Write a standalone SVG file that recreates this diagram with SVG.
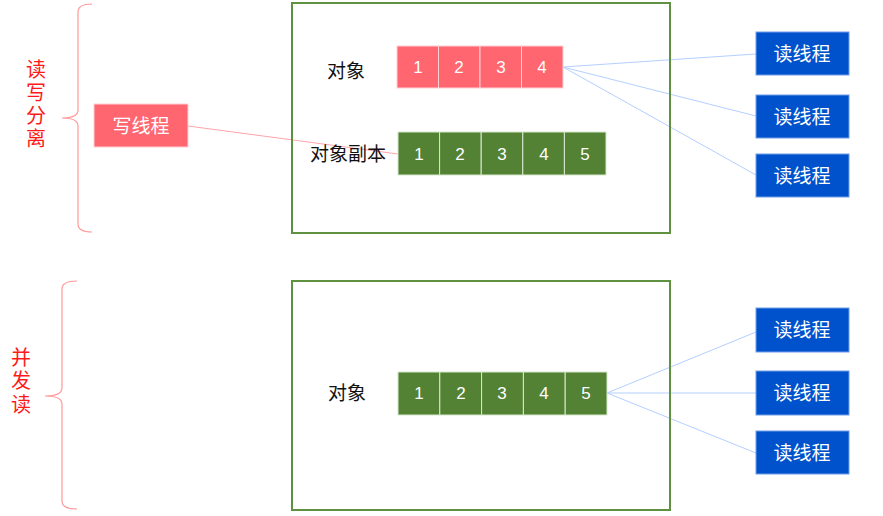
<svg xmlns="http://www.w3.org/2000/svg" width="883" height="516" viewBox="0 0 883 516">
<style>
text{font-family:"Liberation Sans","Noto Sans CJK SC",sans-serif;dominant-baseline:central;text-anchor:middle}
.frame{fill:none;stroke:#5e9140;stroke-width:2}
.brace{fill:none;stroke:#ff9a9a;stroke-width:1.2}
.side{fill:#ff1a1a;font-size:20px}
.pink{fill:#ff6670;stroke:#ffd0d4;stroke-width:1}
.green{fill:#548235;stroke:#d8e8cc;stroke-width:1}
.blue{fill:#0052cc;stroke:#6f9ee8;stroke-width:1}
.num{fill:#fff;font-size:17px}
.lbl{fill:#111;font-size:19px}
.btxt{fill:#fff;font-size:19px}
.conn{stroke:#b4d0ff;stroke-width:1;fill:none}
.wconn{stroke:#ffa4ab;stroke-width:1;fill:none}
</style>
<g id="connectors">
<line class="wconn" x1="188" y1="126" x2="398" y2="154"/>
<line class="conn" x1="563" y1="67" x2="756" y2="54"/>
<line class="conn" x1="563" y1="67" x2="756" y2="116"/>
<line class="conn" x1="563" y1="67" x2="756" y2="175"/>
<line class="conn" x1="607" y1="393" x2="756" y2="332"/>
<line class="conn" x1="607" y1="393" x2="756" y2="393"/>
<line class="conn" x1="607" y1="393" x2="756" y2="453"/>
</g>
<g id="frame-top"><rect class="frame" x="292" y="3" width="378" height="230"/></g>
<g id="frame-bottom"><rect class="frame" x="292" y="281" width="378" height="229"/></g>
<g id="brace-top">
<path class="brace" d="M92,4 Q78,4 78,12 L78,110 Q78,118 62,118 Q78,118 78,126 L78,224 Q78,232 92,232"/>
<text class="side" x="36" y="70">读</text>
<text class="side" x="36" y="93">写</text>
<text class="side" x="36" y="116">分</text>
<text class="side" x="36" y="139">离</text>
</g>
<g id="brace-bottom">
<path class="brace" d="M77,281 Q62,281 62,289 L62,388 Q62,396 45,396 Q62,396 62,404 L62,501 Q62,509 77,509"/>
<text class="side" x="21" y="358">并</text>
<text class="side" x="21" y="381">发</text>
<text class="side" x="21" y="405">读</text>
</g>
<g id="writer">
<rect class="pink" x="94" y="104" width="94" height="43"/>
<text class="btxt" x="141" y="126">写线程</text>
</g>
<g id="object-top">
<text class="lbl" x="346" y="71">对象</text>
<rect class="pink" x="397" y="46" width="41.5" height="42"/><text class="num" x="418" y="67">1</text>
<rect class="pink" x="438.5" y="46" width="41.5" height="42"/><text class="num" x="459" y="67">2</text>
<rect class="pink" x="480" y="46" width="41.5" height="42"/><text class="num" x="501" y="67">3</text>
<rect class="pink" x="521.5" y="46" width="41.5" height="42"/><text class="num" x="542" y="67">4</text>
</g>
<g id="object-copy">
<text class="lbl" x="348" y="154">对象副本</text>
<rect class="green" x="398" y="132" width="41.6" height="43"/><text class="num" x="419" y="154">1</text>
<rect class="green" x="439.6" y="132" width="41.6" height="43"/><text class="num" x="460" y="154">2</text>
<rect class="green" x="481.2" y="132" width="41.6" height="43"/><text class="num" x="502" y="154">3</text>
<rect class="green" x="522.8" y="132" width="41.6" height="43"/><text class="num" x="544" y="154">4</text>
<rect class="green" x="564.4" y="132" width="41.6" height="43"/><text class="num" x="585" y="154">5</text>
</g>
<g id="reader-top-1"><rect class="blue" x="756" y="32" width="93" height="43"/><text class="btxt" x="802" y="54">读线程</text></g>
<g id="reader-top-2"><rect class="blue" x="756" y="95" width="93" height="43"/><text class="btxt" x="802" y="117">读线程</text></g>
<g id="reader-top-3"><rect class="blue" x="756" y="154" width="93" height="43"/><text class="btxt" x="802" y="176">读线程</text></g>
<g id="object-bottom">
<text class="lbl" x="347" y="393">对象</text>
<rect class="green" x="398" y="372" width="41.8" height="43"/><text class="num" x="419" y="393">1</text>
<rect class="green" x="439.8" y="372" width="41.8" height="43"/><text class="num" x="461" y="393">2</text>
<rect class="green" x="481.6" y="372" width="41.8" height="43"/><text class="num" x="502" y="393">3</text>
<rect class="green" x="523.4" y="372" width="41.8" height="43"/><text class="num" x="544" y="393">4</text>
<rect class="green" x="565.2" y="372" width="41.8" height="43"/><text class="num" x="586" y="393">5</text>
</g>
<g id="reader-bottom-1"><rect class="blue" x="756" y="308" width="93" height="44"/><text class="btxt" x="802" y="330">读线程</text></g>
<g id="reader-bottom-2"><rect class="blue" x="756" y="371" width="93" height="44"/><text class="btxt" x="802" y="393">读线程</text></g>
<g id="reader-bottom-3"><rect class="blue" x="756" y="431" width="93" height="43"/><text class="btxt" x="802" y="453">读线程</text></g>
</svg>
